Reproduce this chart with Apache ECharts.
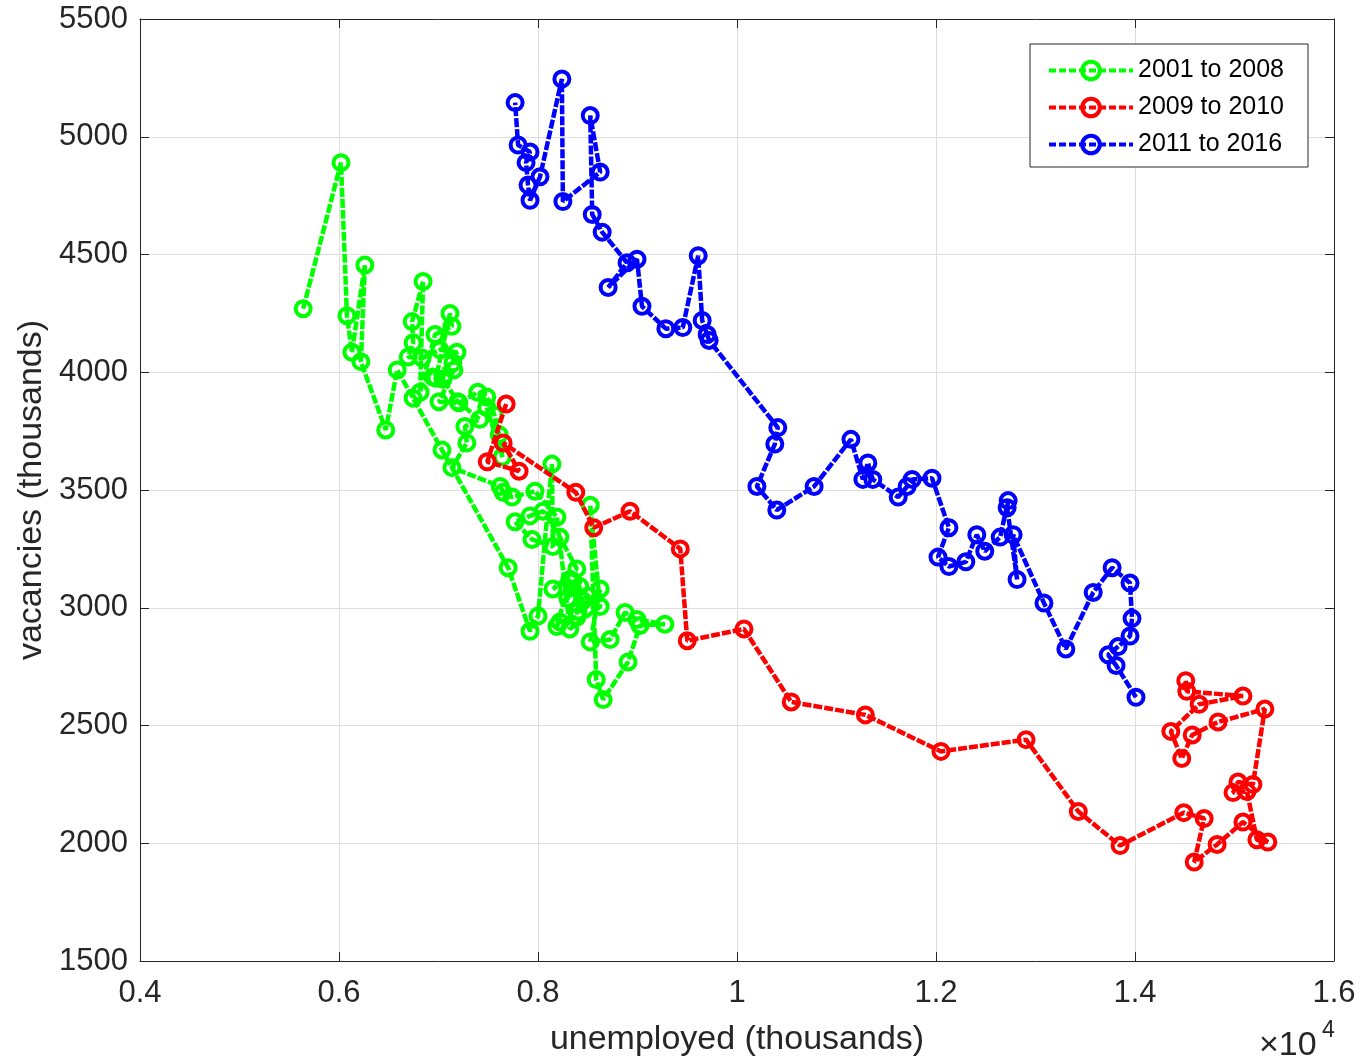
<!DOCTYPE html>
<html>
<head>
<meta charset="utf-8">
<script src="https://cdn.jsdelivr.net/npm/echarts@6/dist/echarts.min.js"></script>
<style>
html,body{margin:0;padding:0;background:#fff;}
#chart{width:1363px;height:1062px;}
</style>
</head>
<body>
<div id="chart"></div>
<script>
// ---- data (thousands) ----
const seriesNames = ['2001 to 2008', '2009 to 2010', '2011 to 2016'];

const greenX = [5640,6020,6080,6130,6260,6220,6470,6585,6745,7035,7700,7920,8000,8140,8150,7940,7770,7920,8050,8220,
  8390,8150,8320,8190,8220,8390,8420,8300,8350,8450,8500,8400,8625,8525,8725,8875,8995,9275,9025,8905,8655,8585,8525,8625,8320,
  8190,7970,7740,7650,7620,7135,7285,7265,7415,7195,7045,6945,7145,7185,7015,6835,6695,6745,6735,6845,
  6815,6965,7135,7115,6975,7155,7005,7205,7395,7485,7560,7610,7640,7485];
const greenY = [4270,4890,4240,4085,4455,4045,3755,4010,3890,3670,3170,2900,2965,3610,3260,3290,3365,3390,3410,3300,
  3165,3080,3120,2920,2940,2960,3090,3040,3115,3030,3050,2985,3080,2855,2865,2980,2950,2930,2925,2770,2610,2695,3435,3005,2910,
  3385,3495,3470,3490,3515,3595,3700,3770,3800,3875,3970,3980,4040,4085,4095,4060,4065,4125,4215,4385,
  3915,4160,4195,4250,3975,4010,3875,3870,3915,3895,3820,3735,3640,3850];

const redX = [7680,7490,7810,7650,8380,8560,8925,9430,9500,10070,10545,11290,12050,12905,13430,13850,
  14490,14695,14595,14825,15085,15335,15225,15125,14985,15035,15185,15305,14835,14575,14470,14360,14645,15085,14520,14510];
const redY = [3865,3620,3580,3700,3490,3340,3410,3250,2860,2910,2600,2545,2390,2440,2135,1990,
  2130,2105,1920,1995,2090,2005,2015,2220,2215,2260,2250,2570,2515,2460,2360,2475,2590,2625,2645,2690];

const blueX = [14010,13810,13730,13830,13950,13970,13950,13770,13580,13305,13085,12775,12815,12715,12725,12645,12490,12410,12300,12130,
  12020,12130,11960,11760,11710,11620,11365,11315,11265,11145,10775,10400,10200,10380,10410,9720,9700,9650,9610,9455,
  9285,9045,8995,8705,8895,8645,8545,8525,8625,8250,8240,8020,7920,7900,7880,7920,7800,7770];
const blueY = [2620,2755,2800,2835,2880,2955,3105,3170,3065,2825,3020,3310,3120,3425,3455,3300,3240,3310,3195,3175,
  3215,3340,3550,3545,3515,3470,3545,3615,3545,3715,3515,3415,3515,3695,3765,4135,4160,4220,4495,4190,
  4185,4280,4480,4360,4465,4595,4670,5090,4850,4725,5245,4830,4730,4795,4890,4935,4965,5145];

const xTicks = {min: 4000, max: 16000, interval: 2000};
const yTicks = {min: 1500, max: 5500, interval: 500};

const colors = ['#00ff00', '#ff0000', '#0000ff'];
const allX = [greenX, redX, blueX];
const allY = [greenY, redY, blueY];

const axisColor = '#262626';
const fontFam = '"Liberation Sans", Arial, Helvetica, sans-serif';

function pairs(xs, ys){ return xs.map((x,i)=>[x, ys[i]]); }

const chart = echarts.init(document.getElementById('chart'), null, {renderer:'canvas'});

const baseAxisLine = {show:true, lineStyle:{color:axisColor, width:1}};
const baseTick = {show:true, inside:true, length:9, lineStyle:{color:axisColor, width:1}};

const option = {
  backgroundColor:'#ffffff',
  animation:false,
  grid:{left:140, right:29, top:19, bottom:100, containLabel:false},
  legend:{
    show:true,
    orient:'vertical',
    right:55, top:44,
    backgroundColor:'#ffffff',
    borderColor:'#262626', borderWidth:1,
    padding:[14,24,10,17],
    itemWidth:84, itemHeight:22, itemGap:12,
    lineStyle:{width:4, type:[7,3]},
    itemStyle:{borderWidth:4},
    textStyle:{fontFamily:fontFam, fontSize:25, color:'#000'},
    data:seriesNames
  },
  xAxis:[{
    type:'value', min:xTicks.min, max:xTicks.max, interval:xTicks.interval,
    position:'bottom',
    axisLine:baseAxisLine, axisTick:baseTick,
    axisLabel:{color:axisColor, fontFamily:fontFam, fontSize:31, margin:17,
      formatter:v=>String(parseFloat((v/10000).toFixed(2)))},
    splitLine:{show:true, lineStyle:{color:'#dfdfdf', width:1}},
    name:'unemployed (thousands)', nameLocation:'middle', nameGap:62,
    nameTextStyle:{color:axisColor, fontFamily:fontFam, fontSize:34}
  },{
    type:'value', min:xTicks.min, max:xTicks.max, interval:xTicks.interval,
    position:'top',
    axisLine:baseAxisLine, axisTick:baseTick, axisLabel:{show:false}, splitLine:{show:false}
  }],
  yAxis:[{
    type:'value', min:yTicks.min, max:yTicks.max, interval:yTicks.interval,
    position:'left',
    axisLine:baseAxisLine, axisTick:baseTick,
    axisLabel:{color:axisColor, fontFamily:fontFam, fontSize:31, margin:12, formatter:v=>String(v)},
    splitLine:{show:true, lineStyle:{color:'#dfdfdf', width:1}},
    name:'vacancies (thousands)', nameLocation:'middle', nameGap:90,
    nameTextStyle:{color:axisColor, fontFamily:fontFam, fontSize:34}
  },{
    type:'value', min:yTicks.min, max:yTicks.max, interval:yTicks.interval,
    position:'right',
    axisLine:baseAxisLine, axisTick:baseTick, axisLabel:{show:false}, splitLine:{show:false}
  }],
  series: seriesNames.map((name, i)=>({
    name:name,
    type:'line',
    data:pairs(allX[i], allY[i]),
    symbol:'circle',
    symbolSize:15,
    showAllSymbol:true,
    clip:true,
    lineStyle:{color:colors[i], width:4.5, type:[9,2]},
    itemStyle:{color:'rgba(255,255,255,0)', borderColor:colors[i], borderWidth:4},
    emphasis:{disabled:true},
    z:2+i
  })),
  graphic:[{
    type:'text',
    left:1259, top:1029,
    style:{text:'×10', fontFamily:fontFam, fontSize:34, fill:axisColor}
  },{
    type:'text',
    left:1322, top:1019,
    style:{text:'4', fontFamily:fontFam, fontSize:23, fill:axisColor}
  }]
};
chart.setOption(option);
</script>
</body>
</html>
